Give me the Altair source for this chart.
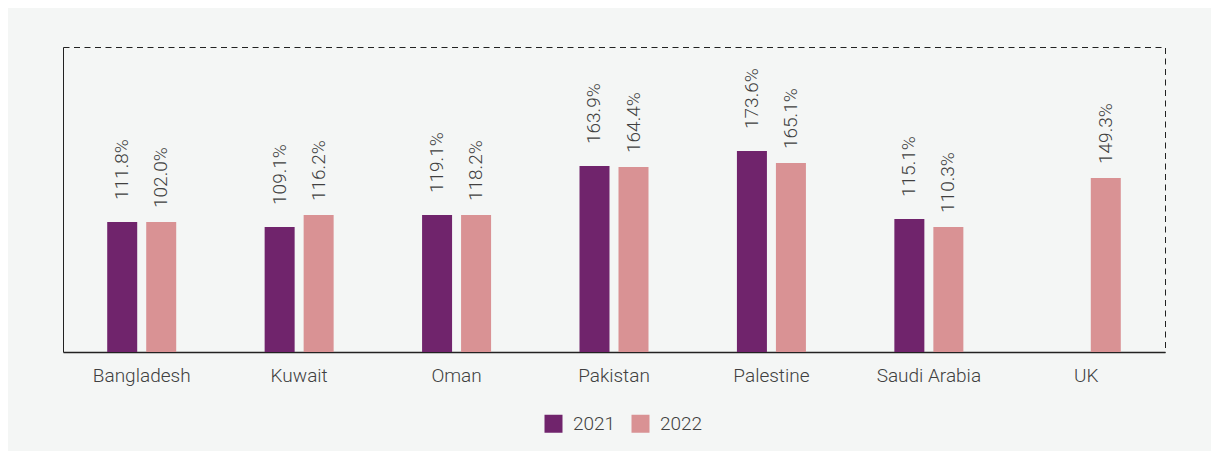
import altair as alt
import pandas as pd

countries = ["Bangladesh", "Kuwait", "Oman", "Pakistan", "Palestine", "Saudi Arabia", "UK"]
years = ["2021", "2022"]

# bar heights (percent units)
values_2021 = [112.3, 108.0, 118.3, 160.6, 173.6, 114.9, None]
values_2022 = [112.3, 118.3, 118.3, 159.8, 163.2, 108.0, 150.3]
# printed labels
labels_2021 = ["111.8%", "109.1%", "119.1%", "163.9%", "173.6%", "115.1%", None]
labels_2022 = ["102.0%", "116.2%", "118.2%", "164.4%", "165.1%", "110.3%", "149.3%"]

colors = ["#70246C", "#D99294"]

rows = []
for c, v1, v2, l1, l2 in zip(countries, values_2021, values_2022, labels_2021, labels_2022):
    if v1 is not None:
        rows.append({"country": c, "year": "2021", "value": v1, "label": l1})
    if v2 is not None:
        rows.append({"country": c, "year": "2022", "value": v2, "label": l2})
df = pd.DataFrame(rows)

FONT = "Roboto"
TXT = "#404040"

x_enc = alt.X(
    "country:N",
    sort=countries,
    scale=alt.Scale(paddingInner=0.5617, paddingOuter=0.28085),
    axis=alt.Axis(
        title=None, labelAngle=0, ticks=False, tickSize=0, labelPadding=14,
        labelFontSize=19, labelFont=FONT, labelFontWeight=300, labelColor=TXT,
        domainColor="#222222", domainWidth=1.5, grid=False,
    ),
)
xo_enc = alt.XOffset("year:N", sort=years, scale=alt.Scale(paddingInner=0.2308, paddingOuter=0))
y_enc = alt.Y(
    "value:Q",
    scale=alt.Scale(domain=[0, 263.4], nice=False),
    axis=alt.Axis(title=None, labels=False, ticks=False, grid=False,
                  domainColor="#222222", domainWidth=1),
)

base = alt.Chart(df)

bars = base.mark_bar().encode(
    x=x_enc,
    xOffset=xo_enc,
    y=y_enc,
    color=alt.Color(
        "year:N",
        scale=alt.Scale(domain=years, range=colors),
        legend=alt.Legend(
            title=None, orient="none", legendX=481, legendY=367, direction="horizontal",
            symbolType="square", symbolSize=324, symbolStrokeWidth=0,
            labelFontSize=19, labelFont=FONT, labelFontWeight=300, labelColor=TXT,
            labelOffset=10, columnPadding=15, padding=0,
        ),
    ),
)

def text_layer(year, dx):
    return base.transform_filter(alt.datum.year == year).mark_text(
        angle=270, align="left", baseline="middle", dx=dx,
        fontSize=19, font=FONT, fontWeight=300, color=TXT,
    ).encode(x=x_enc, xOffset=xo_enc, y=y_enc, text="label:N")

chart = alt.layer(bars, text_layer("2021", 22), text_layer("2022", 14)).properties(
    width=1102,
    height=305,
    background="#F4F6F5",
    padding={"left": 55, "top": 39, "right": 46, "bottom": 99},
    autosize=alt.AutoSizeParams(type="none"),
).configure_view(
    stroke="#222222", strokeDash=[6, 4.5], strokeWidth=1,
)

chart.save("out.html", embed_options={"renderer": "svg", "actions": False})
